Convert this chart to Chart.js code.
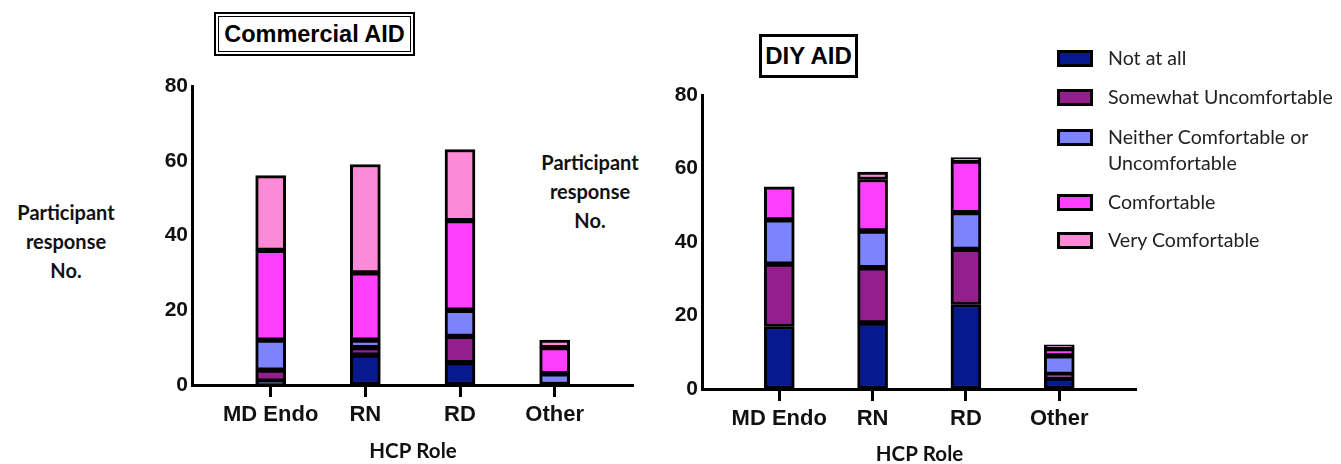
<!DOCTYPE html>
<html>
<head>
<meta charset="utf-8">
<script src="https://cdn.jsdelivr.net/npm/chart.js@4.4.1/dist/chart.umd.min.js"></script>
<style>
  html, body { margin:0; padding:0; width:1341px; height:464px; overflow:hidden; background:#fff; }
  .abs { position:absolute; }
  .box1 { left:214px; top:12px; width:197px; height:40px; border:2px solid #000; box-shadow: inset 0 0 0 2px #fff, inset 0 0 0 3px #000;
          font: bold 23.5px "Liberation Sans", Arial, sans-serif; display:flex; align-items:center; justify-content:center; color:#000; }
  .box2 { left:759px; top:34px; width:93px; height:38px; border:3px solid #000;
          font: bold 24px "Liberation Sans", Arial, sans-serif; display:flex; align-items:center; justify-content:center; color:#000; }
  .ylab { font: bold 20px Lato, "Open Sans", sans-serif; line-height:29px; text-align:center; color:#111; width:140px; }
  .leg { font: 19.6px Lato, "Open Sans", sans-serif; color:#222; line-height:26px; }
  .sw { position:absolute; width:30px; height:11px; border:3px solid #000; }
</style>
</head>
<body>
<div class="abs box1">Commercial AID</div>
<div class="abs box2">DIY AID</div>
<div class="abs ylab" style="left:-4px; top:198px;">Participant<br>response<br>No.</div>
<div class="abs ylab" style="left:520px; top:148px;">Participant<br>response<br>No.</div>

<div class="abs" style="left:140px; top:60px; width:494px; height:404px;"><canvas id="c1"></canvas></div>
<div class="abs" style="left:650px; top:69px; width:487px; height:398px;"><canvas id="c2"></canvas></div>
<div id="legend"></div>

<script>
// ---- data ----
const categories = ['MD Endo', 'RN', 'RD', 'Other'];
const seriesNames = ['Not at all', 'Somewhat Uncomfortable', 'Neither Comfortable or Uncomfortable', 'Comfortable', 'Very Comfortable'];
const seriesColors = ['#061a8e', '#921f8c', '#7d84fb', '#fd3ffd', '#fd8ad6'];
const yTicks = [0, 20, 40, 60, 80];

// Commercial AID
const comNotAtAll     = [1, 8, 6, 0];
const comSomewhat     = [3, 2, 7, 0];
const comNeither      = [8, 2, 7, 3];
const comComfortable  = [24, 18, 24, 7];
const comVery         = [20, 29, 19, 2];

// DIY AID
const diyNotAtAll     = [17, 18, 23, 3];
const diySomewhat     = [17, 15, 15, 1];
const diyNeither      = [12, 10, 10, 5];
const diyComfortable  = [9, 14, 14, 2];
const diyVery         = [0, 2, 1, 1];

const commercial = [comNotAtAll, comSomewhat, comNeither, comComfortable, comVery];
const diy = [diyNotAtAll, diySomewhat, diyNeither, diyComfortable, diyVery];

function makeDatasets(series, thickness) {
  return series.map((vals, s) => ({
    label: seriesNames[s],
    data: vals.map((v, i) => ({ x: i + 1, y: v === 0 ? null : v })),
    backgroundColor: seriesColors[s],
    borderColor: '#000',
    borderWidth: 3,
    borderSkipped: false,
    barThickness: thickness
  }));
}

function makeChart(id, series, xmin, xmax, xHeight, thickness) {
  return new Chart(document.getElementById(id), {
    type: 'bar',
    data: { datasets: makeDatasets(series, thickness) },
    options: {
      responsive: true,
      maintainAspectRatio: false,
      animation: false,
      layout: { padding: { top: 26, right: 0, bottom: 0, left: 0 } },
      plugins: { legend: { display: false }, tooltip: { enabled: false } },
      scales: {
        x: {
          type: 'linear',
          stacked: true,
          offset: false,
          min: xmin, max: xmax,
          afterBuildTicks: (sc) => { sc.ticks = categories.map((c, i) => ({ value: i + 1 })); },
          afterFit: (sc) => { sc.height = xHeight; },
          ticks: {
            callback: (v) => categories[v - 1],
            font: { family: 'Liberation Sans', weight: 'bold', size: 22 },
            color: '#111', padding: 5, maxRotation: 0, autoSkip: false
          },
          grid: { offset: false, drawOnChartArea: false, drawTicks: true, tickLength: 12, tickWidth: 3, tickColor: '#000', color: '#000' },
          border: { display: true, color: '#000', width: 3 },
          title: { display: true, text: 'HCP Role', color: '#111', padding: { top: 0, bottom: 0 },
                   font: { family: 'Lato', weight: 'bold', size: 20.5 } }
        },
        y: {
          stacked: true,
          min: 0, max: 80,
          afterBuildTicks: (sc) => { sc.ticks = yTicks.map(v => ({ value: v })); },
          afterFit: (sc) => { sc.width = 52; },
          ticks: { font: { family: 'Liberation Sans', weight: 'bold', size: 21 }, color: '#111', padding: 4 },
          grid: { drawOnChartArea: false, drawTicks: false },
          border: { display: true, color: '#000', width: 3 }
        }
      }
    }
  });
}

makeChart('c1', commercial, 0.169, 4.838, 79, 30);
makeChart('c2', diy, 0.172, 4.833, 78, 30);

// legend (HTML)
const legY = [58, 97, 137, 202, 240];
const leg = document.getElementById('legend');
seriesNames.forEach((n, i) => {
  const sw = document.createElement('div');
  sw.className = 'sw';
  sw.style.left = '1057px';
  sw.style.top = (legY[i] - 8) + 'px';
  sw.style.background = seriesColors[i];
  leg.appendChild(sw);
  const t = document.createElement('div');
  t.className = 'abs leg';
  t.style.left = '1108px';
  t.style.top = (legY[i] - 13) + 'px';
  t.innerHTML = i === 2 ? 'Neither Comfortable or<br>Uncomfortable' : n;
  leg.appendChild(t);
});
</script>
</body>
</html>
